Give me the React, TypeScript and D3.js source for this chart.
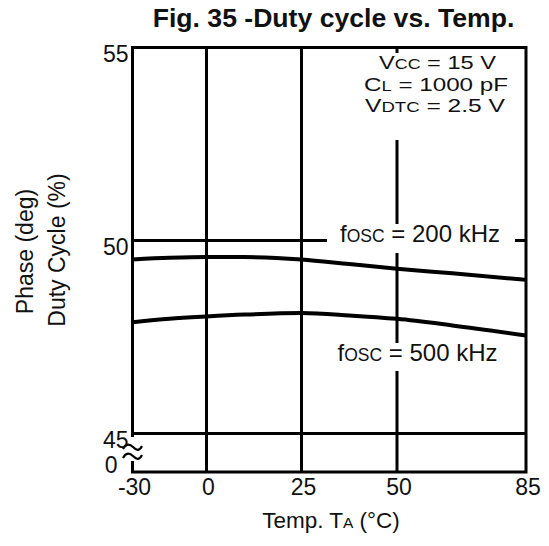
import React from "react";
import * as d3 from "d3";

const temps = [-30, -15, 0, 10, 25, 37.5, 50, 65, 85];
const duty200 = [49.51, 49.55, 49.57, 49.57, 49.51, 49.39, 49.27, 49.15, 48.98];
const duty500 = [47.88, 47.97, 48.03, 48.08, 48.12, 48.06, 47.97, 47.8, 47.54];
const xTicks = [-30, 0, 25, 50, 85];
const yTicks = [0, 45, 50, 55];
const xGrid = [0, 25, 50];
const yGrid = [45, 50];

const FONT = "'Liberation Sans', Arial, Helvetica, sans-serif";

export default function App() {
  const W = 549, H = 546;
  const L = 132.5, R = 526, T = 47.5, B = 472;
  const x = d3.scaleLinear().domain([-30, 0, 25, 50, 85]).range([L, 206.5, 301.5, 397, R]);
  const y = d3.scaleLinear().domain([0, 45, 55]).range([B, 433.5, T]);
  const line = d3
    .line<number>()
    .x((_, i) => x(temps[i]))
    .y((d) => y(d))
    .curve(d3.curveMonotoneX);

  const y50 = y(50);

  return (
    <svg
      width={W}
      height={H}
      style={{ position: "absolute", left: 0, top: 0, background: "#fff" }}
      fontFamily={FONT}
    >
      <rect x={0} y={0} width={W} height={H} fill="#fff" />
      {/* title */}
      <text x={333.5} y={27} textAnchor="middle" fontSize={26.6} fontWeight="bold" fill="#111">
        Fig. 35 -Duty cycle vs. Temp.
      </text>

      {/* grid lines */}
      {xGrid.map((t) => (
        <line key={"gx" + t} x1={x(t)} x2={x(t)} y1={T} y2={B} stroke="#000" strokeWidth={3} />
      ))}
      {yGrid.map((v) => (
        <line key={"gy" + v} x1={L} x2={R} y1={y(v)} y2={y(v)} stroke="#000" strokeWidth={3} />
      ))}

      {/* label backgrounds */}
      <rect x={356} y={53} width={160} height={87} fill="#fff" />
      <rect x={327} y={224} width={188} height={29} fill="#fff" />
      <rect x={337} y={343} width={161} height={28} fill="#fff" />

      {/* curves */}
      <path d={line(duty200) || ""} fill="none" stroke="#000" strokeWidth={4} />
      <path d={line(duty500) || ""} fill="none" stroke="#000" strokeWidth={4} />

      {/* frame */}
      <rect x={L} y={T} width={R - L} height={B - T} fill="none" stroke="#000" strokeWidth={3} />

      {/* axis break */}
      <rect x={123} y={437} width={20} height={24} fill="#fff" />
      {[446, 455].map((d) => (
        <path
          key={"br" + d}
          d={`M123,${d + 3} C126,${d - 3} 130,${d - 2} 133,${d + 1} S139,${d + 6} 142,${d}`}
          fill="none"
          stroke="#000"
          strokeWidth={2.2}
        />
      ))}

      {/* y tick labels */}
      {yTicks.map((v) => (
        <text
          key={"yt" + v}
          x={v === 0 ? L - 15 : L - 4}
          y={y(v) + (v === 0 ? 1 : 14)}
          textAnchor="end"
          fontSize={23}
          fill="#111"
        >
          {v}
        </text>
      ))}

      {/* x tick labels */}
      {xTicks.map((t) => (
        <text key={"xt" + t} x={x(t) + 2} y={495} textAnchor="middle" fontSize={23} fill="#111">
          {t}
        </text>
      ))}

      {/* axis titles */}
      <text x={331} y={528} textAnchor="middle" fontSize={22.5} fill="#111">
        Temp. T<tspan fontSize={15.5}>A</tspan> (°C)
      </text>
      <text transform="translate(33,251.5) rotate(-90)" textAnchor="middle" fontSize={23} fill="#111">
        Phase (deg)
      </text>
      <text transform="translate(65,250) rotate(-90)" textAnchor="middle" fontSize={23} fill="#111">
        Duty Cycle (%)
      </text>

      {/* conditions */}
      <g fontSize={18.5} fill="#111">
        <text x={379} y={69} textLength={117} lengthAdjust="spacingAndGlyphs">
          V<tspan fontSize={14}>CC</tspan> = 15 V
        </text>
        <text x={364} y={90.5} textLength={144} lengthAdjust="spacingAndGlyphs">
          C<tspan fontSize={14}>L</tspan> = 1000 pF
        </text>
        <text x={365} y={112} textLength={140} lengthAdjust="spacingAndGlyphs">
          V<tspan fontSize={14}>DTC</tspan> = 2.5 V
        </text>
      </g>

      {/* curve labels */}
      <text x={420} y={y50 + 1.5} textAnchor="middle" fontSize={24} fill="#111">
        f<tspan fontSize={17.5}>OSC</tspan> = 200 kHz
      </text>
      <text x={417.5} y={361} textAnchor="middle" fontSize={24} fill="#111">
        f<tspan fontSize={17.5}>OSC</tspan> = 500 kHz
      </text>
    </svg>
  );
}
